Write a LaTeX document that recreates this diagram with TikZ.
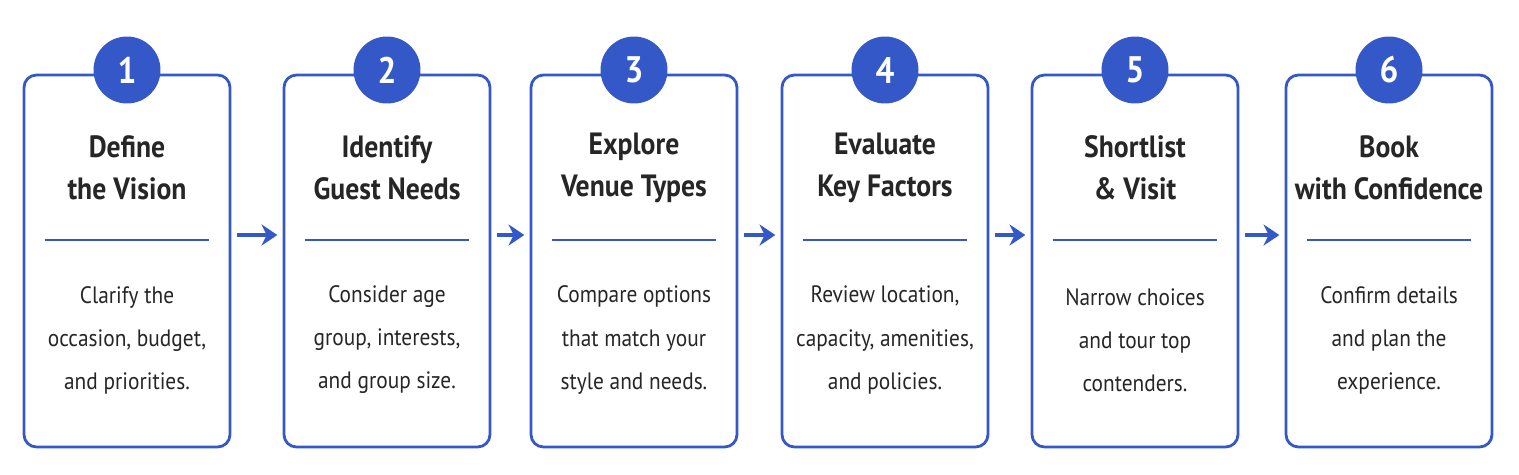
\documentclass[tikz,border=0pt]{standalone}
\usepackage{fontspec}
\setmainfont{PT Sans}[FakeStretch=0.9]
\usetikzlibrary{positioning, arrows.meta, calc}
\definecolor{stepblue}{HTML}{3558C8}

\begin{document}
\begin{tikzpicture}[x=0.02cm, y=-0.02cm,
    stepbox/.style={draw=stepblue, line width=1.6pt, rounded corners=7pt,
        fill=white, minimum width=4.12cm, minimum height=7.44cm},
    stepnum/.style={circle, fill=stepblue, minimum size=1.34cm, inner sep=0pt,
        text=white, font=\fontsize{21}{21}\selectfont\bfseries},
    steptitle/.style={align=center, font=\fontsize{17.5}{24}\selectfont\bfseries, text=black!85},
    stepbody/.style={align=center, font=\fontsize{13.5}{24.5}\selectfont, text=black!85},
    steparrow/.style={-{Stealth[length=9pt, width=12pt]}, draw=stepblue, line width=2.4pt}]

    % -------------------------
    % Canvas
    % -------------------------
    \useasboundingbox (0,0) rectangle (1519,474);

    % -------------------------
    % Steps
    % -------------------------
    \foreach \i/\cx/\ttl/\bdy in {
        1/127/{Define\\the Vision}/{Clarify the\\occasion, budget,\\and priorities.},
        2/387/{Identify\\Guest Needs}/{Consider age\\group, interests,\\and group size.},
        3/634/{Explore\\Venue Types}/{Compare options\\that match your\\style and needs.},
        4/885/{Evaluate\\Key Factors}/{Review location,\\capacity, amenities,\\and policies.},
        5/1135/{Shortlist\\\& Visit}/{Narrow choices\\and tour top\\contenders.},
        6/1389/{Book\\with Confidence}/{Confirm details\\and plan the\\experience.}} {
        \node[stepbox] (box\i) at (\cx,261) {};
        \node[stepnum] (num\i) at (\cx,70) {\i};
        \node[steptitle] (title\i) at (\cx,168) {\ttl};
        \draw[stepblue, line width=1.2pt] ($(box\i.west)+(22,-21)$) -- ($(box\i.east)+(-22,-21)$);
        \node[stepbody] (body\i) at (\cx,340) {\bdy};
    }

    % -------------------------
    % Connectors
    % -------------------------
    \foreach \a/\b in {1/2, 2/3, 3/4, 4/5, 5/6} {
        \draw[steparrow, shorten <=3pt, shorten >=3pt]
            ([yshift=0.52cm]box\a.east) -- ([yshift=0.52cm]box\b.west);
    }

\end{tikzpicture}
\end{document}
